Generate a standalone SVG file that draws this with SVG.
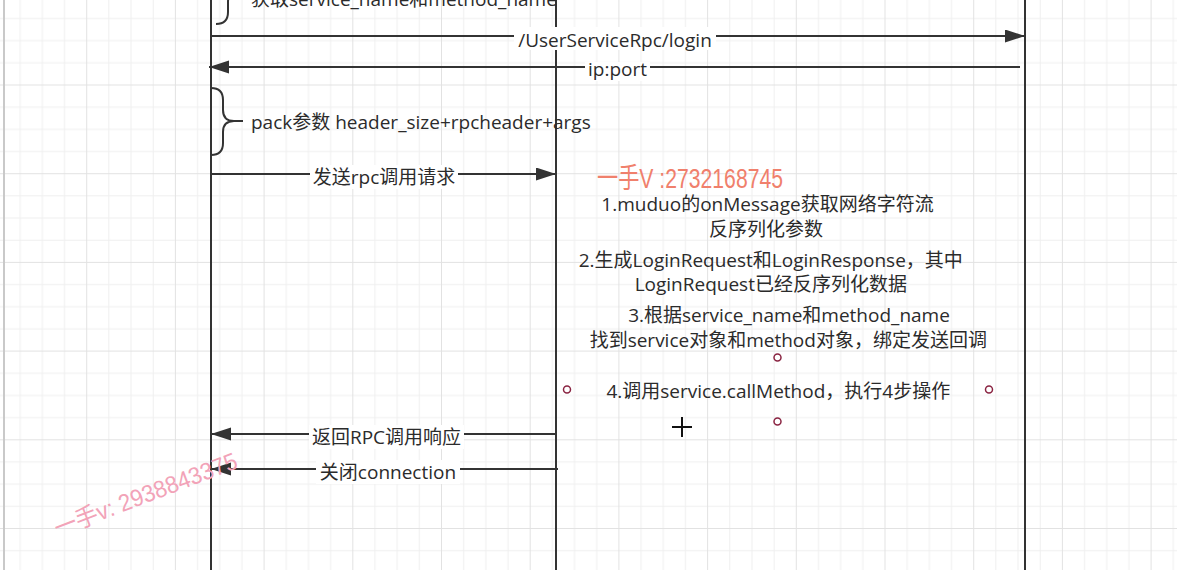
<svg xmlns="http://www.w3.org/2000/svg" width="1177" height="570" viewBox="0 0 1177 570">
<style>
  .life{stroke:#333;stroke-width:2;fill:none}
  .edge{stroke:#333;stroke-width:2;fill:none}
  .brace{stroke:#333;stroke-width:2;fill:none}
  .lbl{font-family:"Open Sans","Noto Sans CJK SC",sans-serif;font-size:19px;fill:#2b2b2b}
  .mid{text-anchor:middle}
  .bg{fill:#fff}
  .pt{fill:#fff;stroke:#8a2442;stroke-width:1.5}
</style>
<defs>
  <pattern id="grid" x="-2.5" y="-4.2" width="88.7" height="88.7" patternUnits="userSpaceOnUse">
    <path d="M22.675,0V88.7M44.85,0V88.7M67.025,0V88.7M0,22.675H88.7M0,44.85H88.7M0,67.025H88.7" stroke="#efefef" stroke-width="1"/>
    <path d="M0.5,0V88.7M0,0.5H88.7" stroke="#e2e2e2" stroke-width="1"/>
  </pattern>
  <marker id="arr" markerUnits="userSpaceOnUse" markerWidth="21" markerHeight="14" refX="20" refY="6.5" orient="auto">
    <path d="M0,0L20,6.5L0,13Z" fill="#333"/>
  </marker>
</defs>
<rect width="1177" height="570" fill="#fff"/>
<rect width="1177" height="570" fill="url(#grid)"/>
<rect x="3" y="0" width="2" height="570" fill="#c9c9c9"/>

<g id="lifeline-client"><line class="life" x1="211" y1="0" x2="211" y2="570"/></g>
<g id="lifeline-provider"><line class="life" x1="556" y1="0" x2="556" y2="570"/></g>
<g id="lifeline-zk"><line class="life" x1="1025" y1="0" x2="1025" y2="570"/></g>

<g id="brace-get-name">
  <path class="brace" d="M216,-40Q228,-40 228,-28L228,-20Q228,-10 240,-10L248,-10M240,-10Q228,-10 228,2L228,12Q228,24 216,24"/>
  <text class="lbl" x="251" y="6">获取service_name和method_name</text>
</g>

<g id="brace-pack">
  <path class="brace" d="M211,88Q223,88 223,100L223,110Q223,121 234,121L243,121M234,121Q223,121 223,132L223,143Q223,155 211,155"/>
  <text class="lbl" x="251" y="129">pack参数 header_size+rpcheader+args</text>
</g>

<g id="connectors">
  <g id="e-login">
    <line class="edge" x1="211" y1="36" x2="1025" y2="36" marker-end="url(#arr)"/>
    <rect class="bg" x="514" y="27" width="202" height="23"/>
    <text class="lbl mid" x="615" y="46.5">/UserServiceRpc/login</text>
  </g>
  <g id="e-ipport">
    <line class="edge" x1="1020" y1="67" x2="209" y2="67" marker-end="url(#arr)"/>
    <rect class="bg" x="585" y="62" width="65" height="19"/>
    <text class="lbl mid" x="617.5" y="76">ip:port</text>
  </g>
  <g id="e-send">
    <line class="edge" x1="211" y1="174" x2="556" y2="174" marker-end="url(#arr)"/>
    <rect class="bg" x="310" y="165" width="148" height="24"/>
    <text class="lbl mid" x="384" y="184">发送rpc调用请求</text>
  </g>
  <g id="e-resp">
    <line class="edge" x1="556" y1="434" x2="211" y2="434" marker-end="url(#arr)"/>
    <rect class="bg" x="309" y="425" width="155" height="24"/>
    <text class="lbl mid" x="386.5" y="444">返回RPC调用响应</text>
  </g>
  <g id="e-close">
    <line class="edge" x1="558" y1="469" x2="211" y2="469" marker-end="url(#arr)"/>
    <rect class="bg" x="316" y="460" width="144" height="24"/>
    <text class="lbl mid" x="388" y="479">关闭connection</text>
  </g>
</g>

<g id="steps">
  <text class="lbl mid" x="767.5" y="211">1.muduo的onMessage获取网络字符流</text>
  <text class="lbl mid" x="766" y="236">反序列化参数</text>
  <text class="lbl mid" x="770.8" y="267">2.生成LoginRequest和LoginResponse，其中</text>
  <text class="lbl mid" x="770.8" y="290.5">LoginRequest已经反序列化数据</text>
  <text class="lbl mid" x="789" y="322">3.根据service_name和method_name</text>
  <text class="lbl mid" x="788.3" y="346.5">找到service对象和method对象，绑定发送回调</text>
  <text class="lbl mid" x="778.3" y="398">4.调用service.callMethod，执行4步操作</text>
  <circle class="pt" cx="777.5" cy="357.5" r="3.5"/>
  <circle class="pt" cx="567" cy="389.5" r="3.5"/>
  <circle class="pt" cx="989" cy="389.5" r="3.5"/>
  <circle class="pt" cx="777.5" cy="421.5" r="3.5"/>
</g>

<g id="cursor">
  <path d="M672,427H692M682,417V437" stroke="#111" stroke-width="2"/>
</g>

<g id="watermarks">
  <text x="597" y="188" font-family="'Liberation Sans','Noto Sans CJK SC',sans-serif" font-size="28" fill="#f0806c" textLength="186" lengthAdjust="spacingAndGlyphs">一手V :2732168745</text>
  <text transform="translate(58,537) rotate(-21)" font-family="'Liberation Sans','Noto Sans CJK SC',sans-serif" font-size="24" fill="#f2a3b8" textLength="194" lengthAdjust="spacingAndGlyphs">一手v: 2938843375</text>
</g>
</svg>
